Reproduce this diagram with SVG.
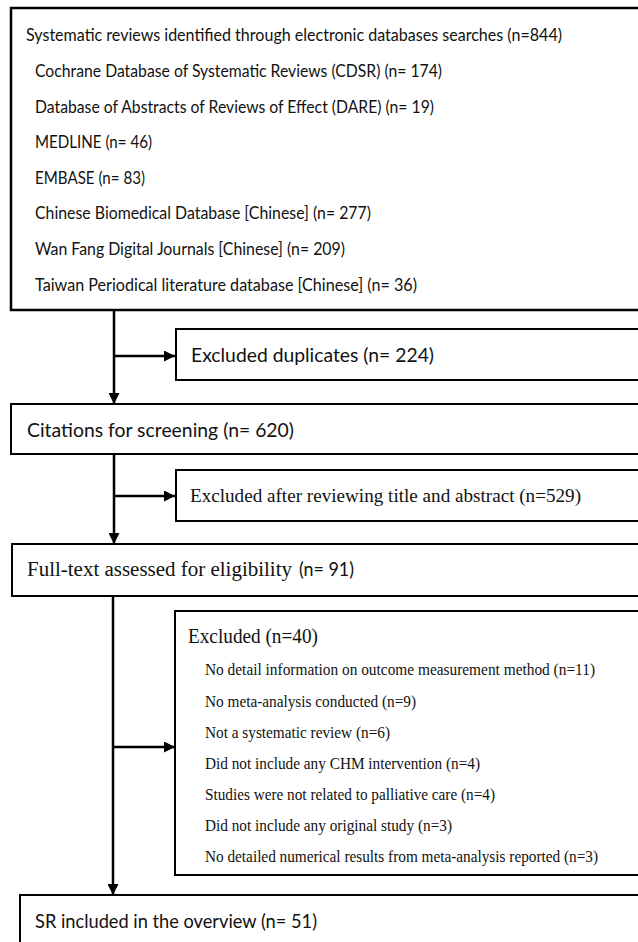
<svg xmlns="http://www.w3.org/2000/svg" width="638" height="942" viewBox="0 0 638 942">
<style>
.box{fill:#fff;stroke:#000;stroke-width:2}
.sans{font-family:Lato,"Liberation Sans",sans-serif;fill:#111}
.serif{font-family:"Liberation Serif","Times New Roman",serif;fill:#111}
.conn{stroke:#000;stroke-width:2.5;fill:none}
</style>
<defs>
<marker id="ah" markerUnits="userSpaceOnUse" markerWidth="12" markerHeight="11" refX="11" refY="5.5" orient="auto">
<path d="M0,0 L11,5.5 L0,11 Z" fill="#000"/>
</marker>
</defs>
<rect width="638" height="942" fill="#fff"/>
<g id="connectors">
<line class="conn" x1="114" y1="310" x2="114" y2="404" marker-end="url(#ah)"/>
<line class="conn" x1="114" y1="356" x2="175" y2="356" marker-end="url(#ah)"/>
<line class="conn" x1="114" y1="454" x2="114" y2="544" marker-end="url(#ah)"/>
<line class="conn" x1="114" y1="496" x2="175" y2="496" marker-end="url(#ah)"/>
<line class="conn" x1="113" y1="596" x2="113" y2="895" marker-end="url(#ah)"/>
<line class="conn" x1="113" y1="747" x2="175" y2="747" marker-end="url(#ah)"/>
</g>
<g id="search">
<rect class="box" x="11" y="8" width="640" height="302" style="stroke-width:2.5"/>
<text class="sans" font-size="17" x="26" y="41" textLength="536" lengthAdjust="spacingAndGlyphs">Systematic reviews identified through electronic databases searches (n=844)</text>
<text class="sans" font-size="17" x="35" y="77" textLength="407" lengthAdjust="spacingAndGlyphs">Cochrane Database of Systematic Reviews (CDSR) (n= 174)</text>
<text class="sans" font-size="17" x="35" y="113" textLength="399" lengthAdjust="spacingAndGlyphs">Database of Abstracts of Reviews of Effect (DARE) (n= 19)</text>
<text class="sans" font-size="17" x="35" y="148" textLength="117" lengthAdjust="spacingAndGlyphs">MEDLINE (n= 46)</text>
<text class="sans" font-size="17" x="35" y="184" textLength="110" lengthAdjust="spacingAndGlyphs">EMBASE (n= 83)</text>
<text class="sans" font-size="17" x="35" y="219" textLength="336" lengthAdjust="spacingAndGlyphs">Chinese Biomedical Database [Chinese] (n= 277)</text>
<text class="sans" font-size="17" x="35" y="255" textLength="310" lengthAdjust="spacingAndGlyphs">Wan Fang Digital Journals [Chinese] (n= 209)</text>
<text class="sans" font-size="17" x="35" y="291" textLength="382" lengthAdjust="spacingAndGlyphs">Taiwan Periodical literature database [Chinese] (n= 36)</text>
</g>
<g id="duplicates">
<rect class="box" x="176" y="329" width="475" height="51"/>
<text class="sans" font-size="20" x="191" y="362" textLength="243" lengthAdjust="spacingAndGlyphs">Excluded duplicates (n= 224)</text>
</g>
<g id="screening">
<rect class="box" x="11" y="404" width="640" height="50"/>
<text class="sans" font-size="20" x="27" y="437" textLength="267" lengthAdjust="spacingAndGlyphs">Citations for screening (n= 620)</text>
</g>
<g id="excluded-title">
<rect class="box" x="176" y="470" width="475" height="51"/>
<text class="serif" font-size="19" x="190" y="502" textLength="391" lengthAdjust="spacingAndGlyphs">Excluded after reviewing title and abstract (n=529)</text>
</g>
<g id="fulltext">
<rect class="box" x="12" y="544" width="640" height="52"/>
<text x="27" y="576" font-size="20"><tspan class="serif" textLength="265" lengthAdjust="spacingAndGlyphs">Full-text assessed for eligibility</tspan><tspan class="sans" x="299" textLength="55" lengthAdjust="spacingAndGlyphs">(n= 91)</tspan></text>
</g>
<g id="excluded-fulltext">
<rect class="box" x="175" y="611" width="476" height="264"/>
<text class="serif" font-size="20" x="188" y="643" textLength="130" lengthAdjust="spacingAndGlyphs">Excluded (n=40)</text>
<text class="serif" font-size="16" x="205" y="675" textLength="390" lengthAdjust="spacingAndGlyphs">No detail information on outcome measurement method (n=11)</text>
<text class="serif" font-size="16" x="205" y="707" textLength="211" lengthAdjust="spacingAndGlyphs">No meta-analysis conducted (n=9)</text>
<text class="serif" font-size="16" x="205" y="738" textLength="185" lengthAdjust="spacingAndGlyphs">Not a systematic review (n=6)</text>
<text class="serif" font-size="16" x="205" y="769" textLength="275" lengthAdjust="spacingAndGlyphs">Did not include any CHM intervention (n=4)</text>
<text class="serif" font-size="16" x="205" y="800" textLength="290" lengthAdjust="spacingAndGlyphs">Studies were not related to palliative care (n=4)</text>
<text class="serif" font-size="16" x="205" y="831" textLength="247" lengthAdjust="spacingAndGlyphs">Did not include any original study (n=3)</text>
<text class="serif" font-size="16" x="205" y="862" textLength="393" lengthAdjust="spacingAndGlyphs">No detailed numerical results from meta-analysis reported (n=3)</text>
</g>
<g id="included">
<rect class="box" x="20" y="895" width="640" height="60"/>
<text class="sans" font-size="20" x="35" y="928" textLength="282" lengthAdjust="spacingAndGlyphs">SR included in the overview (n= 51)</text>
</g>
</svg>
